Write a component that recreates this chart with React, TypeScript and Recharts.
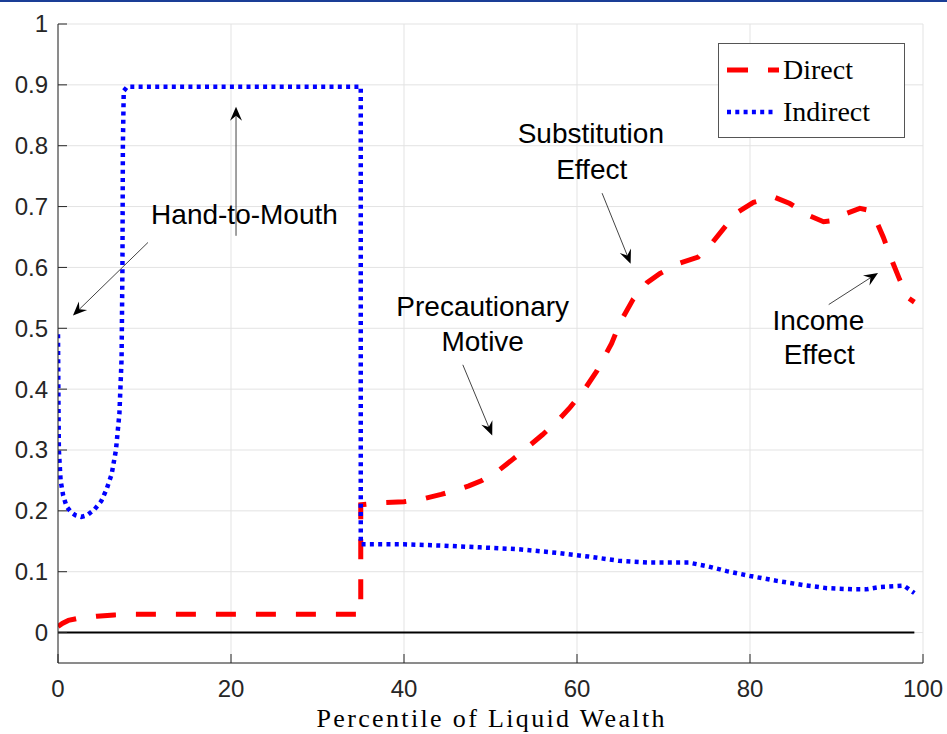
import React from 'react';
import { LineChart, Line, XAxis, YAxis, CartesianGrid, Legend, ReferenceLine, ReferenceDot } from 'recharts';

// ---- data ----
const directX = [0, 0.5, 1.2, 2.5, 4.5, 6.5, 9, 15, 25, 35, 35, 37, 40, 42.3, 44.3, 46, 47.5, 49, 51, 52.6, 54.4, 56, 57.7, 59.2, 60.8, 62.3, 64, 65, 66.5, 68.1, 69.6, 71.9, 74, 75.6, 76.9, 78.5, 80.4, 82.7, 84.6, 86.7, 88.5, 90, 91, 92.7, 93.7, 94.4, 95.4, 96.5, 97.3, 98.3, 99];
const directY = [0.01, 0.015, 0.02, 0.024, 0.027, 0.029, 0.03, 0.03, 0.03, 0.03, 0.21, 0.213, 0.215, 0.22, 0.227, 0.234, 0.241, 0.25, 0.267, 0.285, 0.306, 0.325, 0.347, 0.37, 0.398, 0.43, 0.475, 0.51, 0.548, 0.575, 0.59, 0.607, 0.617, 0.64, 0.663, 0.69, 0.707, 0.716, 0.705, 0.686, 0.675, 0.678, 0.688, 0.697, 0.694, 0.683, 0.65, 0.608, 0.58, 0.55, 0.543];

const indirectX = [0, 0.05, 0.1, 0.3, 0.6, 1, 1.5, 2, 2.7, 3.4, 4.2, 5, 5.6, 6.2, 6.7, 7.1, 7.35, 7.45, 7.5, 7.6, 8, 20, 35, 35, 40, 44.3, 48.8, 53.2, 57.7, 61.3, 64.8, 68.4, 72.9, 75.1, 77.3, 80, 83.1, 86.2, 88.9, 92, 93.4, 95.1, 97.8, 99];
const indirectY = [0.49, 0.38, 0.3, 0.25, 0.225, 0.207, 0.198, 0.193, 0.19, 0.193, 0.202, 0.216, 0.235, 0.26, 0.3, 0.36, 0.45, 0.6, 0.8, 0.89, 0.897, 0.897, 0.897, 0.145, 0.145, 0.143, 0.14, 0.137, 0.131, 0.125, 0.118, 0.115, 0.115, 0.109, 0.101, 0.093, 0.085, 0.078, 0.073, 0.071, 0.071, 0.075, 0.077, 0.065];

const zeroX = [0, 99];
const zeroY = [0, 0];

const seriesNames = ['Direct', 'Indirect'];
const xTicks = [0, 20, 40, 60, 80, 100];
const yTicks = [0, 0.1, 0.2, 0.3, 0.4, 0.5, 0.6, 0.7, 0.8, 0.9, 1];
const xLabel = 'Percentile of Liquid Wealth';

const noteText = ['Hand-to-Mouth', 'Substitution', 'Effect', 'Precautionary', 'Motive', 'Income', 'Effect'];
const noteX = [21.56, 61.6, 61.7, 49.1, 49.1, 87.9, 88.0];
const noteY = [0.688, 0.821, 0.762, 0.537, 0.478, 0.514, 0.457];

const arrowX1 = [20.58, 10.4, 62.9, 46.8, 89.1];
const arrowY1 = [0.652, 0.641, 0.722, 0.44, 0.539];
const arrowX2 = [20.58, 1.73, 66.2, 50.2, 94.8];
const arrowY2 = [0.864, 0.521, 0.606, 0.324, 0.591];

const toPoints = (xs: number[], ys: number[]) => xs.map((x, i) => ({ x, y: ys[i] }));

const AXIS = '#262626';
const SANS = '"Liberation Sans", Arial, sans-serif';
const SERIF = '"Liberation Serif", "Times New Roman", serif';

const YTick = (p: any) => {
  const { x, y, payload } = p;
  return (
    <g>
      <line x1={x + 10} y1={y} x2={x + 19} y2={y} stroke={AXIS} strokeWidth={1} />
      <text x={x} y={y} dy="0.35em" textAnchor="end" fontFamily={SANS} fontSize={24} fill={AXIS}>
        {String(payload.value)}
      </text>
    </g>
  );
};

const XTick = (p: any) => {
  const { x, y, payload } = p;
  const axisY = y - 12;
  return (
    <g>
      <line x1={x} y1={axisY} x2={x} y2={axisY - 9} stroke={AXIS} strokeWidth={1} />
      <text x={x} y={axisY + 34} textAnchor="middle" fontFamily={SANS} fontSize={24} fill={AXIS}>
        {String(payload.value)}
      </text>
    </g>
  );
};

const Arrow = (p: any) => {
  const { x1, y1, x2, y2 } = p;
  const a = Math.atan2(y2 - y1, x2 - x1);
  const c = Math.cos(a);
  const s = Math.sin(a);
  const L = 14;
  const W = 6;
  const N = 9;
  const bx = x2 - L * c;
  const by = y2 - L * s;
  const lx = bx - W * s;
  const ly = by + W * c;
  const rx = bx + W * s;
  const ry = by - W * c;
  const nx = x2 - N * c;
  const ny = y2 - N * s;
  return (
    <g>
      <line x1={x1} y1={y1} x2={nx} y2={ny} stroke="#444" strokeWidth={1} />
      <polygon points={`${x2},${y2} ${lx},${ly} ${nx},${ny} ${rx},${ry}`} fill="#000" />
    </g>
  );
};

const LegendBox = () => (
  <div
    style={{
      boxSizing: 'border-box',
      width: 187,
      height: 95,
      border: '1px solid #555',
      background: '#fff',
      paddingTop: 5,
      paddingLeft: 8,
      fontFamily: SERIF,
      fontSize: 28,
      color: '#000',
    }}
  >
    <div style={{ display: 'flex', alignItems: 'center', height: 42 }}>
      <svg width={52} height={10} style={{ display: 'block' }}>
        <line x1={0} y1={5} x2={52} y2={5} stroke="#ff0000" strokeWidth={5} strokeDasharray="21 20" />
      </svg>
      <span style={{ marginLeft: 4, lineHeight: '42px' }}>{seriesNames[0]}</span>
    </div>
    <div style={{ display: 'flex', alignItems: 'center', height: 42 }}>
      <svg width={52} height={10} style={{ display: 'block' }}>
        <line x1={0} y1={5} x2={47} y2={5} stroke="#0000ff" strokeWidth={4.5} strokeDasharray="4 4.3" />
      </svg>
      <span style={{ marginLeft: 4, lineHeight: '42px' }}>{seriesNames[1]}</span>
    </div>
  </div>
);

export default function App() {
  return (
    <div style={{ position: 'absolute', left: 0, top: 0, width: 947, height: 734, background: '#fff', overflow: 'hidden' }}>
      <div style={{ position: 'absolute', left: 0, top: 0, width: 947, height: 2, background: '#1a3e96', zIndex: 2 }} />
      <LineChart width={947} height={734} margin={{ top: 24, right: 24, left: 0, bottom: 0 }}>
        <CartesianGrid stroke="#e3e3e3" strokeWidth={1} />
        <XAxis
          dataKey="x"
          type="number"
          domain={[0, 100]}
          ticks={xTicks}
          height={71}
          stroke={AXIS}
          tickSize={0}
          tickMargin={12}
          tickLine={false}
          tick={<XTick />}
          interval={0}
          allowDataOverflow
          label={{
            content: (lp: any) => {
              const vb = lp.viewBox || { x: 58, y: 663, width: 865 };
              return (
                <text
                  x={vb.x + vb.width / 2}
                  y={vb.y + 64}
                  textAnchor="middle"
                  fontFamily={SERIF}
                  fontSize={26}
                  fill="#000"
                  textLength={348}
                >
                  {xLabel}
                </text>
              );
            },
          }}
        />
        <YAxis
          type="number"
          domain={[-0.05, 1]}
          ticks={yTicks}
          width={58}
          stroke={AXIS}
          tickSize={0}
          tickMargin={10}
          tickLine={false}
          tick={<YTick />}
          interval={0}
          allowDataOverflow
        />
        <Line
          data={toPoints(zeroX, zeroY)}
          dataKey="y"
          type="linear"
          stroke="#000"
          strokeWidth={2}
          dot={false}
          activeDot={false}
          legendType="none"
          isAnimationActive={false}
        />
        <Line
          data={toPoints(directX, directY)}
          dataKey="y"
          name={seriesNames[0]}
          type="linear"
          stroke="#ff0000"
          strokeWidth={5}
          strokeDasharray="20 20"
          strokeLinecap="butt"
          dot={false}
          activeDot={false}
          isAnimationActive={false}
        />
        <Line
          data={toPoints(indirectX, indirectY)}
          dataKey="y"
          name={seriesNames[1]}
          type="linear"
          stroke="#0000ff"
          strokeWidth={4.5}
          strokeDasharray="4 4.3"
          strokeLinecap="butt"
          dot={false}
          activeDot={false}
          isAnimationActive={false}
        />
        {arrowX1.map((_, i) => (
          <ReferenceLine
            key={`arrow-${i}`}
            segment={[
              { x: arrowX1[i], y: arrowY1[i] },
              { x: arrowX2[i], y: arrowY2[i] },
            ]}
            shape={(p: any) => <Arrow {...p} />}
            ifOverflow="visible"
          />
        ))}
        {noteText.map((t, i) => (
          <ReferenceDot
            key={`note-${i}`}
            x={noteX[i]}
            y={noteY[i]}
            r={0}
            ifOverflow="visible"
            shape={(p: any) => (
              <text x={p.cx} y={p.cy} dy="0.35em" textAnchor="middle" fontFamily={SANS} fontSize={28} fill="#000">
                {t}
              </text>
            )}
          />
        ))}
        <Legend
          layout="vertical"
          align="center"
          verticalAlign="middle"
          wrapperStyle={{ top: 43, left: 718, width: 187, height: 95 }}
          content={() => <LegendBox />}
        />
      </LineChart>
    </div>
  );
}
